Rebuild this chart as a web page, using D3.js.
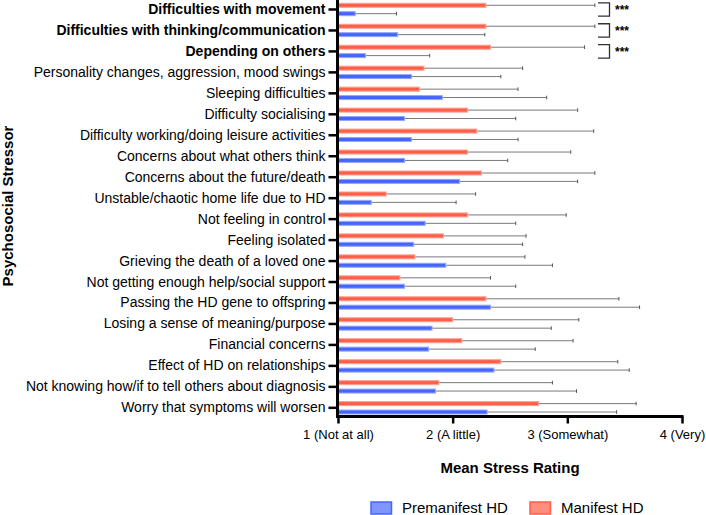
<!DOCTYPE html>
<html lang="en">
<head>
    <meta charset="UTF-8">
    <title>Psychosocial stressors</title>
    <style>
        body {
            margin: 0;
            background-color: #fff;
        }
        svg text {
            font-family: "Liberation Sans", Arial, sans-serif;
        }
    </style>
</head>
<body>
    <script src="https://cdnjs.cloudflare.com/ajax/libs/d3/7.8.5/d3.min.js"></script>
<script>

    let width = 706
    let height = 515

    let stressors = [
        "Difficulties with movement",
        "Difficulties with thinking/communication",
        "Depending on others ",
        "Personality changes, aggression, mood swings",
        "Sleeping difficulties",
        "Difficulty socialising",
        "Difficulty working/doing leisure activities",
        "Concerns about what others think",
        "Concerns about the future/death",
        "Unstable/chaotic home life due to HD",
        "Not feeling in control",
        "Feeling isolated",
        "Grieving the death of a loved one",
        "Not getting enough help/social support",
        "Passing the HD gene to offspring",
        "Losing a sense of meaning/purpose",
        "Financial concerns",
        "Effect of HD on relationships",
        "Not knowing how/if to tell others about diagnosis",
        "Worry that symptoms will worsen"
    ]
    let bold = [0, 1, 2]

    let manifest = [2.29, 2.29, 2.33, 1.75, 1.71, 2.13, 2.21, 2.13, 2.25, 1.42,
                    2.13, 1.92, 1.67, 1.54, 2.29, 2.00, 2.08, 2.42, 1.88, 2.75]
    let manifestSD = [0.95, 0.95, 0.82, 0.86, 0.86, 0.96, 1.02, 0.90, 0.99, 0.78,
                      0.86, 0.72, 0.96, 0.79, 1.16, 1.10, 0.97, 1.02, 0.99, 0.85]
    let premanifest = [1.15, 1.52, 1.24, 1.64, 1.91, 1.58, 1.64, 1.58, 2.06, 1.29,
                       1.76, 1.66, 1.94, 1.58, 2.33, 1.82, 1.79, 2.36, 1.85, 2.30]
    let premanifestSD = [0.36, 0.76, 0.56, 0.78, 0.91, 0.97, 0.93, 0.90, 1.03, 0.74,
                         0.79, 0.95, 0.93, 0.97, 1.30, 1.04, 0.93, 1.18, 1.23, 1.13]

    let tickValues = [1, 2, 3, 4]
    let tickLabels = ["1 (Not at all)", "2 (A little)", "3 (Somewhat)", "4 (Very)"]

    let groups = ["Premanifest HD", "Manifest HD"]
    let fills = ["#4466ff", "#ff5e49"]
    let edges = ["#95a6ff", "#ffa091"]
    let legendFills = ["#8095ff", "#ff8e7e"]

    let svg = d3.select("body").append("svg")
        .attr("width", width)
        .attr("height", height)

    let x = d3.scaleLinear()
        .domain([1, 4])
        .range([338, 682])

    let y = d3.scaleBand()
        .domain(stressors)
        .range([-1, 418.3])

    let off = 4.2
    let bh = 4

    // error bars
    function errorBars(means, sds, dy) {
        let g = svg.append("g")
        g.selectAll("line.eb")
            .data(stressors)
            .enter()
            .append("line")
                .attr("x1", (d, i) => x(means[i]))
                .attr("x2", (d, i) => x(means[i] + sds[i]))
                .attr("y1", d => y(d) + y.bandwidth() / 2 + dy)
                .attr("y2", d => y(d) + y.bandwidth() / 2 + dy)
                .attr("stroke", "#7a7a7a")
                .attr("stroke-width", 1)
        g.selectAll("line.cap")
            .data(stressors)
            .enter()
            .append("line")
                .attr("x1", (d, i) => x(means[i] + sds[i]))
                .attr("x2", (d, i) => x(means[i] + sds[i]))
                .attr("y1", d => y(d) + y.bandwidth() / 2 + dy - 1.8)
                .attr("y2", d => y(d) + y.bandwidth() / 2 + dy + 1.8)
                .attr("stroke", "#555")
                .attr("stroke-width", 1)
    }
    errorBars(manifest, manifestSD, -off)
    errorBars(premanifest, premanifestSD, off)

    function bars(means, dy, k) {
        svg.append("g").selectAll("rect")
            .data(stressors)
            .enter()
            .append("rect")
                .attr("x", x(1))
                .attr("y", d => y(d) + y.bandwidth() / 2 + dy - bh / 2)
                .attr("width", (d, i) => x(means[i]) - x(1))
                .attr("height", bh)
                .attr("fill", fills[k])
                .attr("stroke", edges[k])
                .attr("stroke-width", 1)
    }
    bars(manifest, -off, 1)
    bars(premanifest, off, 0)

    // axes
    let xAxis = svg.append("g")
        .attr("transform", "translate(0,416.5)")
        .call(d3.axisBottom(x).tickValues(tickValues).tickSize(7).tickSizeOuter(0)
            .tickFormat((d, i) => tickLabels[i]))
    xAxis.select(".domain").attr("stroke", "#000").attr("stroke-width", 3)
        .attr("d", `M${x(1) - 1.5},0H${x(4) + 1.5}`)
    xAxis.selectAll(".tick line").attr("stroke", "#000").attr("stroke-width", 2.5)
    xAxis.selectAll(".tick text")
        .attr("font-size", 13)
        .attr("fill", "#000")
        .attr("y", 13)

    let yAxis = svg.append("g")
        .attr("transform", `translate(${x(1) - 0.5},0)`)
        .call(d3.axisLeft(y).tickSize(9).tickSizeOuter(0))
    yAxis.select(".domain").attr("stroke", "#000").attr("stroke-width", 3)
        .attr("d", "M0,0V418")
    yAxis.selectAll(".tick line").attr("stroke", "#000").attr("stroke-width", 2.5)
    yAxis.selectAll(".tick text")
        .attr("font-size", 14)
        .attr("fill", "#000")
        .attr("x", -12)
        .attr("font-weight", (d, i) => bold.includes(i) ? "bold" : "normal")

    // significance brackets
    bold.forEach(i => {
        let c = y(stressors[i]) + y.bandwidth() / 2
        let top = c - off - 2.5
        let bot = c + off + 2.5
        svg.append("path")
            .attr("d", `M598,${top}H609.5V${bot}H598`)
            .attr("fill", "none")
            .attr("stroke", "#333")
            .attr("stroke-width", 1.3)
        svg.append("text")
            .attr("x", 615)
            .attr("y", c + 4.5)
            .attr("font-size", 12)
            .attr("font-weight", "bold")
            .text("***")
    })

    // axis titles
    svg.append("text")
        .attr("x", 510)
        .attr("y", 473)
        .attr("text-anchor", "middle")
        .attr("font-size", 15)
        .attr("font-weight", "bold")
        .text("Mean Stress Rating")

    svg.append("text")
        .attr("transform", "translate(12.5,206) rotate(-90)")
        .attr("text-anchor", "middle")
        .attr("font-size", 15)
        .attr("font-weight", "bold")
        .text("Psychosocial Stressor")

    // legend
    let legendX = [371, 530]
    let legend = svg.append("g")
    groups.forEach((g, i) => {
        legend.append("rect")
            .attr("x", legendX[i])
            .attr("y", 502)
            .attr("width", 20.5)
            .attr("height", 12)
            .attr("fill", legendFills[i])
            .attr("stroke", fills[i])
            .attr("stroke-width", 1.5)
        legend.append("text")
            .attr("x", legendX[i] + 31)
            .attr("y", 513)
            .attr("font-size", 15)
            .text(g)
    })

</script>
</body>
</html>
